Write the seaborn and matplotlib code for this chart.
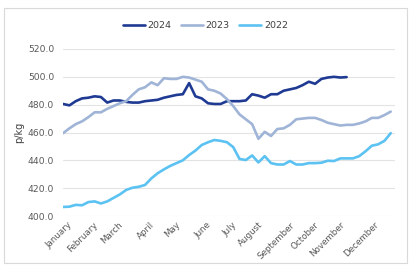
import pandas as pd
import matplotlib.pyplot as plt
import seaborn as sns
from matplotlib.patches import Rectangle

# ----------------------------
# Data (weekly prices, p/kg)
# ----------------------------

years = ["2024", "2023", "2022"]
colors = ["#1F3A93", "#9FB4D6", "#5BC2F2"]

price_2024 = [480.5, 479.5, 482.5, 484.5, 485, 486, 485.5, 481.5, 483, 483,
              482, 481.5, 481.5, 482.5, 483, 483.5, 485, 486, 487, 487.5,
              495.5, 486, 484.5, 481, 480.5, 480.5, 482.5, 482.5, 482.5, 483,
              487.5, 486.5, 485, 487.5, 487.5, 490, 491, 492, 494, 496.5,
              495, 498.5, 499.5, 500, 499.5, 499.8]

price_2023 = [459.5, 463, 466, 468, 471, 474.5, 474.5, 477, 479, 481,
              482.5, 487, 491, 492.5, 496, 494, 499, 498.5, 498.5, 500,
              499.5, 498, 496.5, 491, 490, 488, 484, 479, 473, 469.5,
              466, 455.5, 460.5, 457.5, 462.5, 463, 465.5, 469.5, 470, 470.5,
              470.5, 469, 467, 466, 465, 465.5, 465.5, 466.5, 468, 470.5,
              470.5, 472.5, 475]

price_2022 = [406.5, 406.7, 408, 407.7, 410, 410.5, 409, 410.5, 413, 415.5,
              418.7, 420.3, 421, 422.3, 427, 430.7, 433.5, 436, 438, 440,
              443.8, 447, 451, 453, 454.6, 454, 453, 449.5, 441, 440.2,
              443.5, 438.5, 443, 438, 437, 437, 439.5, 437, 437, 438,
              438, 438.3, 439.7, 439.5, 441.4, 441.4, 441.4, 443, 446.5, 450.5,
              451.5, 454, 459.5]

month_labels = ["January", "February", "March", "April", "May", "June",
                "July", "August", "September", "October", "November", "December"]
month_weeks = [0.6, 4.8, 8.7, 13.8, 17.9, 22.8, 26.9, 30.9, 36, 39.9, 43.9, 49.3]

y_ticks = [400, 420, 440, 460, 480, 500, 520]

frames = []
for year, vals in zip(years, [price_2024, price_2023, price_2022]):
    frames.append(pd.DataFrame({"week": range(len(vals)), "price": vals, "year": year}))
df = pd.concat(frames, ignore_index=True)

# ----------------------------
# Plot
# ----------------------------

sns.set_style("white")
plt.rcParams["font.family"] = ["DejaVu Sans"]

fig = plt.figure(figsize=(4.11, 2.73), dpi=100)
ax = fig.add_axes([62.5 / 411, 57 / 273, 332 / 411, 167 / 273])

fig.patches.append(Rectangle((4 / 411, 10 / 273), 403 / 411, 255 / 273,
                             transform=fig.transFigure, fill=False,
                             edgecolor="#D9D9D9", linewidth=0.8))

sns.lineplot(data=df, x="week", y="price", hue="year", hue_order=years,
             palette=colors, linewidth=1.9, ax=ax, legend=False)

ax.set_xlim(-0.1, 52.6)
ax.set_ylim(400, 520)
ax.set_yticks(y_ticks)
ax.set_yticklabels([f"{v:.1f}" for v in y_ticks], fontsize=6.6, color="#595959")
ax.set_xticks(month_weeks)
ax.set_xticklabels(month_labels, rotation=45, ha="right", rotation_mode="anchor",
                   fontsize=6.3, color="#595959")
ax.tick_params(axis="x", length=0, pad=3)
ax.tick_params(axis="y", length=0, pad=6)
ax.grid(axis="y", color="#E3E3E3", linewidth=0.8)
ax.set_axisbelow(True)
for s in ax.spines.values():
    s.set_visible(False)

ax.set_xlabel("")
ax.set_ylabel("p/kg", fontsize=7, color="#404040", labelpad=3)

handles = [plt.Line2D([], [], color=c, linewidth=1.9) for c in colors]
fig.legend(handles, years, loc="center", bbox_to_anchor=(0.5, 1 - 26 / 273),
           ncol=3, frameon=False, fontsize=6.8, handlelength=2.3,
           handletextpad=0.3, columnspacing=1.0, labelcolor="#404040")

plt.savefig("out.png", dpi=100)
plt.close()
